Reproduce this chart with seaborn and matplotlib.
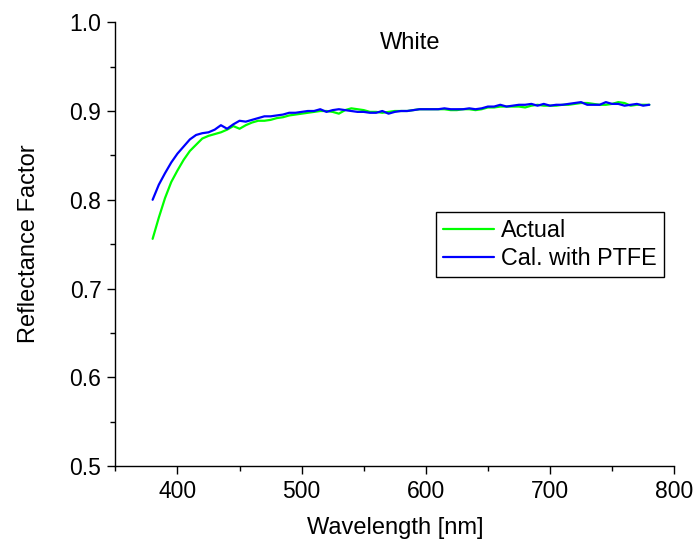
import numpy as np
import pandas as pd
import matplotlib
matplotlib.use("Agg")
import matplotlib.pyplot as plt
from matplotlib.ticker import MultipleLocator
import seaborn as sns

wavelength = list(range(380, 781, 5))
actual = [0.756, 0.780, 0.802, 0.820, 0.833, 0.845, 0.855, 0.862, 0.869, 0.872,
          0.874, 0.876, 0.879, 0.883, 0.880, 0.884, 0.887, 0.889, 0.889, 0.890,
          0.892, 0.893, 0.895, 0.896, 0.897, 0.898, 0.899, 0.900, 0.900, 0.899,
          0.897, 0.901, 0.903, 0.902, 0.901, 0.899, 0.899, 0.898, 0.899, 0.900,
          0.900, 0.900, 0.901, 0.902, 0.902, 0.902, 0.902, 0.902, 0.901, 0.901,
          0.902, 0.902, 0.901, 0.902, 0.904, 0.904, 0.905, 0.905, 0.905, 0.905,
          0.904, 0.906, 0.907, 0.906, 0.906, 0.906, 0.907, 0.907, 0.908, 0.909,
          0.909, 0.908, 0.907, 0.907, 0.908, 0.910, 0.909, 0.906, 0.907, 0.907,
          0.907]
cal_ptfe = [0.800, 0.817, 0.830, 0.842, 0.852, 0.860, 0.868, 0.873, 0.875, 0.876,
            0.879, 0.884, 0.880, 0.885, 0.889, 0.888, 0.890, 0.892, 0.894, 0.894,
            0.895, 0.896, 0.898, 0.898, 0.899, 0.900, 0.900, 0.902, 0.899, 0.901,
            0.902, 0.901, 0.900, 0.899, 0.899, 0.898, 0.898, 0.900, 0.897, 0.899,
            0.900, 0.900, 0.901, 0.902, 0.902, 0.902, 0.902, 0.903, 0.902, 0.902,
            0.902, 0.903, 0.902, 0.903, 0.905, 0.905, 0.907, 0.905, 0.906, 0.907,
            0.907, 0.908, 0.906, 0.908, 0.906, 0.907, 0.907, 0.908, 0.909, 0.910,
            0.907, 0.907, 0.907, 0.910, 0.908, 0.908, 0.906, 0.907, 0.908, 0.906,
            0.907]
series_names = ["Actual", "Cal. with PTFE"]
x_ticks = [400, 500, 600, 700, 800]
y_ticks = [0.5, 0.6, 0.7, 0.8, 0.9, 1.0]

df = pd.DataFrame({
    "Wavelength": wavelength * 2,
    "Reflectance": actual + cal_ptfe,
    "Series": [series_names[0]] * len(wavelength) + [series_names[1]] * len(wavelength),
})

sns.set_style("ticks")
plt.rcParams["font.family"] = ["Liberation Sans", "DejaVu Sans"]
plt.rcParams["text.color"] = "black"
plt.rcParams["axes.labelcolor"] = "black"

fig = plt.figure(figsize=(6.95, 5.42), dpi=100)
ax = fig.add_axes([0.166, 0.140, 0.804, 0.819])

sns.lineplot(data=df, x="Wavelength", y="Reflectance", hue="Series",
             palette={"Actual": "#00ff00", "Cal. with PTFE": "#0000ff"},
             linewidth=1.6, ax=ax)

ax.set_xlim(350, 800)
ax.set_ylim(0.5, 1.0)
ax.set_xticks(x_ticks)
ax.set_yticks(y_ticks)
ax.set_yticklabels([f"{v:.1f}" for v in y_ticks])
ax.xaxis.set_minor_locator(MultipleLocator(50))
ax.yaxis.set_minor_locator(MultipleLocator(0.05))
ax.tick_params(axis="both", which="major", direction="out", length=6, width=1,
               labelsize=16.5, colors="black", pad=4)
ax.tick_params(axis="both", which="minor", direction="out", length=3.5, width=1,
               colors="black")
for s in ["top", "right"]:
    ax.spines[s].set_visible(False)
for s in ["left", "bottom"]:
    ax.spines[s].set_color("black")
    ax.spines[s].set_linewidth(1)

ax.set_xlabel("Wavelength [nm]", fontsize=17, labelpad=10, color="black")
ax.set_ylabel("Reflectance Factor", fontsize=17, labelpad=21, color="black")
ax.text(587, 0.977, "White", fontsize=17, ha="center", va="center", color="black")

leg = ax.legend(loc="upper left", bbox_to_anchor=(0.574, 0.572), fontsize=16.8,
                frameon=True, fancybox=False, edgecolor="black", framealpha=1,
                handlelength=2.2, handletextpad=0.3, borderpad=0.3,
                labelspacing=0.2, borderaxespad=0)
leg.get_frame().set_linewidth(1)
for t in leg.get_texts():
    t.set_color("black")

fig.savefig("out.png", dpi=100)
